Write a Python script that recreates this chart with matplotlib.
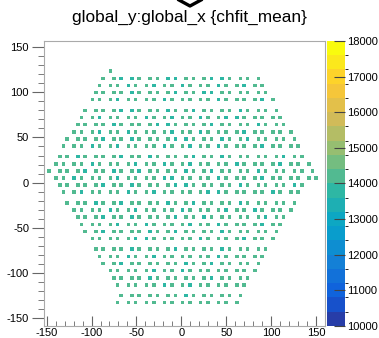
import numpy as np
import matplotlib
matplotlib.use("Agg")
import matplotlib.pyplot as plt                          # noqa: E402
from matplotlib.colors import BoundaryNorm, ListedColormap  # noqa: E402
from matplotlib.lines import Line2D                      # noqa: E402
from matplotlib.ticker import MultipleLocator            # noqa: E402

plt.rcParams["font.family"] = ["Liberation Sans", "DejaVu Sans"]
plt.rcParams["axes.unicode_minus"] = False

TITLE = "global_y:global_x {chfit_mean}"

# TH2 binning, the frame is the histogram range
NX, XMIN, XMAX = 78, -153.4, 160.2
NY, YMIN, YMAX = 80, -158.9, 157.1

# filled bins, one entry per row: (y bin, first x bin, codes)
# '.' = empty bin, letters = chfit_mean level (spaces only for reading)
VALUE = {"g": 14300, "t": 13700}
ROWS = [
    (71, 18, "g"),
    (69, 16, "g..g. t..t. g..g. g..t. t..g. g..g. t..t. g..g. g..g"),
    (67, 15, "g..g. g..t. g..g. t..g. g..t. g..g. g..t. g..g. t..g. g"),
    (65, 14, "g.g.. g.g.. t.g.. g.g.. g.t.. g.g.. t.t.. g.g.. g.g.. g.g"),
    (63, 13, "g.g.. g.t.. g.g.. g.g.. t.g.. g.g.. g.g.. t.g.. g.g.. g.t.. g"),
    (60, 11, "g..g. g..g. t..t. g..g. g..t. g..g. t..g. g..g. g..t. g..g. g..g"),
    (58, 10, "g..g. t..g. g..g. g..t. g..g. t..g. g..t. g..g. t..t. g..g. g..g. g"),
    (56, 9, "g.g.. g.g.. t.g.. g.g.. g.t.. t.g.. g.g.. g.t.. g.g.. g.g.. t.g.. g.g"),
    (54, 8, "g.g.. g.t.. g.g.. t.g.. g.g.. g.t.. g.g.. t.g.. g.g.. g.t.. g.g.. g.g.. g"),
    (52, 6, "g..g. g..g. t..g. g..t. g..g. g..g. t..t. g..g. g..t. g..g. t..g. g..g. g..g"),
    (50, 5, "g..g. g..t. g..g. t..g. g..g. g..t. g..g. t..g. g..t. g..g. g..g. t..g. g..g. g"),
    (47, 4, "g.g.. t.g.. g.g.. g.t.. g.g.. t.g.. g.g.. g.t.. g.g.. t.g.. g.g.. g.g.. g.t.. g.g"),
    (45, 3, "g.g.. g.g.. t.g.. g.g.. g.t.. g.g.. t.g.. g.t.. g.g.. g.g.. t.g.. g.g.. g.t.. g.g.. g"),
    (43, 1, "g..g. g..g. t..g. g..t. g..g. t..g. g..g. g..t. g..g. t..g. g..g. g..t. g..g. g..g. g..g"),
    (41, 3, "g.g.. t.g.. g.g.. g.t.. g.g.. g.g.. t.t.. g.g.. g.g.. t.g.. g.g.. g.t.. g.g.. g.g.. g.g"),
    (39, 4, "g.g.. g.g.. g.t.. g.g.. t.g.. g.g.. g.t.. t.g.. g.g.. g.g.. t.g.. g.g.. g.g.. t.g"),
    (37, 5, "g..g. t..g. g..g. g..t. g..g. t..g. g..g. g..g. t..t. g..g. g..g. g..t. g..g. g"),
    (34, 6, "g..g. g..t. g..g. t..g. g..g. g..t. g..g. t..g. g..g. g..t. g..g. g..g. g..g"),
    (32, 8, "g.g.. g.g.. t.g.. g.t.. g.g.. g.g.. t.g.. g.g.. g.t.. g.g.. t.g.. g.g.. g"),
    (30, 9, "g.g.. g.t.. g.g.. t.g.. g.g.. g.t.. g.g.. t.g.. g.g.. g.g.. g.t.. g.g"),
    (28, 10, "g..g. g..g. t..g. g..t. g..g. g..g. t..g. g..t. g..g. g..g. t..g. g"),
    (26, 11, "g..g. t..g. g..g. g..t. g..g. t..g. g..g. g..t. g..g. g..g. g..g"),
    (24, 13, "g.g.. g.g.. g.t.. t.g.. g.g.. g.g.. t.g.. g.g.. g.t.. g.g.. g"),
    (21, 14, "g.g.. g.g.. t.g.. g.g.. g.t.. g.g.. g.g.. t.g.. g.g.. g.g"),
    (19, 15, "g..g. g..t. g..g. t..g. g..g. g..g. g..t. g..g. g..g. g"),
    (17, 16, "g..g. t..g. g..g. g..g. g..t. g..g. t..g. g..g. g..g"),
    (15, 18, "g.g.. g.g.. g.t.. g.g.. t.g.. g.g.. g.g.. g.g.. g"),
    (13, 19, "g.g.. g.g.. t.g.. g.g.. g.g.. g.t.. g.g.. g.g"),
    (11, 20, "g..g. g..g. g..t. g..g. t..g. g..g. g..g. g"),
    (8, 21, "g..g. g..g. g..g. g..t. g..g. g..g. g..g"),
    (6, 20, "g..g. g..g. g..g. g..g. g..g. g..g. g..g"),
]

Z_MIN, Z_MAX, N_CONT = 10000, 18000, 20
Z_TICKS = [10000, 11000, 12000, 13000, 14000, 15000, 16000, 17000, 18000]
X_TICKS = [-150, -100, -50, 0, 50, 100, 150]
Y_TICKS = [-150, -100, -50, 0, 50, 100, 150]

# ROOT kBird palette
BIRD_STOPS = [0.0, 0.125, 0.25, 0.375, 0.5, 0.625, 0.75, 0.875, 1.0]
BIRD_R = [0.2082, 0.0592, 0.0780, 0.0232, 0.1802, 0.5301, 0.8186, 0.9956, 0.9764]
BIRD_G = [0.1664, 0.3599, 0.5041, 0.6419, 0.7178, 0.7492, 0.7328, 0.7862, 0.9832]
BIRD_B = [0.5293, 0.8684, 0.8385, 0.7914, 0.6425, 0.4662, 0.3499, 0.1968, 0.0539]


def bird_bands(n):
    # ROOT picks the colour at the top end of every contour band
    pos = np.array([int((i + 0.99) * 255 / n) for i in range(n)]) / 254.0
    return np.column_stack([np.interp(pos, BIRD_STOPS, c)
                            for c in (BIRD_R, BIRD_G, BIRD_B)])


z = np.full((NY, NX), np.nan)
for iy, ix0, codes in ROWS:
    for n, c in enumerate(codes.replace(" ", "")):
        if c != ".":
            z[iy, ix0 + n] = VALUE[c]
xe = np.linspace(XMIN, XMAX, NX + 1)
ye = np.linspace(YMIN, YMAX, NY + 1)

cmap = ListedColormap(bird_bands(N_CONT))
norm = BoundaryNorm(np.linspace(Z_MIN, Z_MAX, N_CONT + 1), N_CONT)

fig = plt.figure(figsize=(3.79, 3.38), dpi=100)
ax = fig.add_axes([0.115, 0.036, 0.743, 0.843])
cax = fig.add_axes([0.863, 0.036, 0.047, 0.843])

mesh = ax.pcolormesh(xe, ye, np.ma.masked_invalid(z), cmap=cmap, norm=norm)
ax.set_xlim(XMIN, XMAX)
ax.set_ylim(YMIN, YMAX)

ax.set_xticks(X_TICKS)
ax.set_yticks(Y_TICKS)
ax.xaxis.set_minor_locator(MultipleLocator(10))
ax.yaxis.set_minor_locator(MultipleLocator(10))
ax.tick_params(axis="x", which="both", direction="in", top=False,
               color="#666666", labelsize=8, pad=1.5)
ax.tick_params(axis="x", which="major", length=7)
ax.tick_params(axis="x", which="minor", length=3.5)
ax.tick_params(axis="y", which="both", direction="out", right=False,
               color="#666666", labelsize=8, pad=1.5)
ax.tick_params(axis="y", which="major", length=9)
ax.tick_params(axis="y", which="minor", length=4.5)
for sp in ax.spines.values():
    sp.set_color("#aaaaaa")
    sp.set_linewidth(0.8)

cb = fig.colorbar(mesh, cax=cax, ticks=Z_TICKS)
cb.outline.set_visible(False)
cax.tick_params(direction="in", length=8, width=0.8, color="#444444",
                labelsize=8, pad=1.5)

fig.text(0.5, 0.947, TITLE, ha="center", va="center", fontsize=12.4)

# bit of the canvas widget peeking in at the top
fig.add_artist(Line2D([179 / 379, 190 / 379, 201 / 379],
                      [1.0, 1 - 6 / 338, 1.0],
                      color="black", lw=2.4))

fig.savefig("out.png", dpi=100)
